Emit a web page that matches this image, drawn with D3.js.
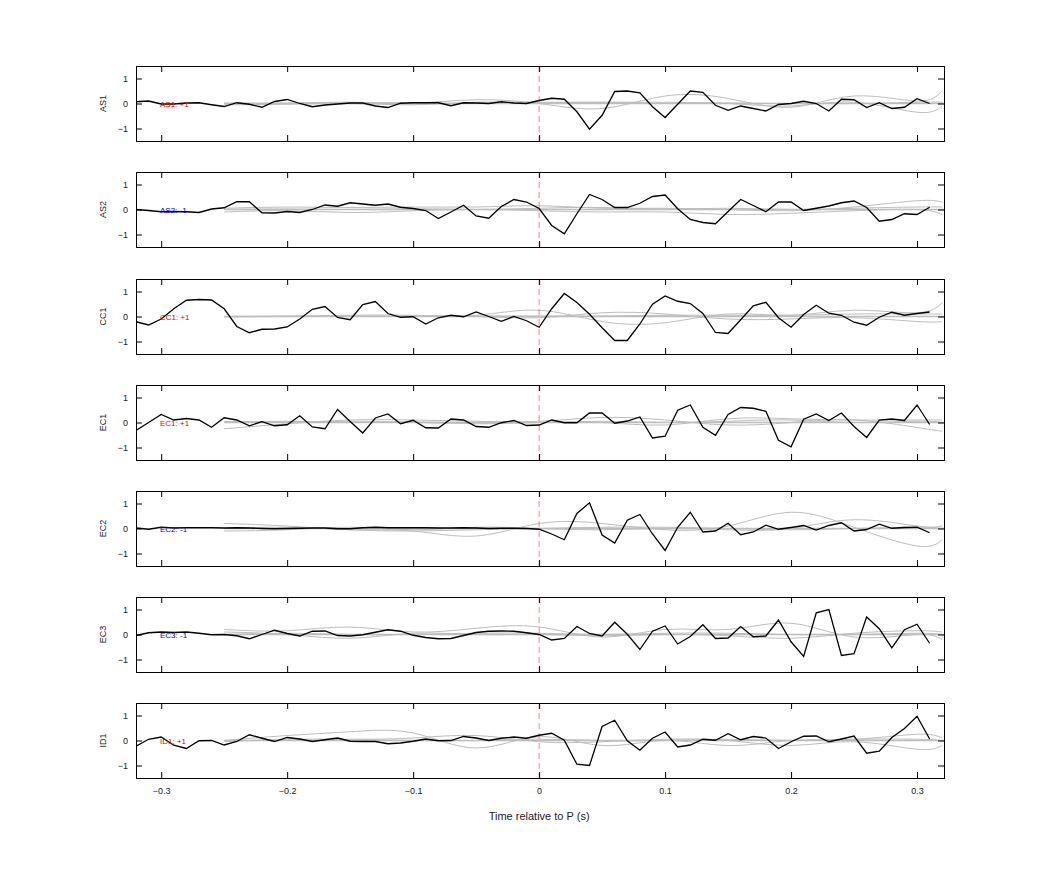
<!DOCTYPE html>
<html>
<head>
<meta charset="utf-8">
<script src="https://cdn.jsdelivr.net/npm/d3@7"></script>
<style>
  body { margin: 0; background: #fff; }
  text { font-family: "Liberation Sans", Arial, sans-serif; }
</style>
</head>
<body>
<svg width="1042" height="875"></svg>
<script>
// channel names, polarity sign and label colour
var channels = ['AS1', 'AS2', 'CC1', 'EC1', 'EC2', 'EC3', 'ID1']
var polarity = ['+1', '-1', '+1', '+1', '-1', '-1', '+1']

// black trace sampled every 10 ms from -0.32 to 0.31 s
var times = d3.range(64).map(function(i) { return +(-0.32 + i * 0.01).toFixed(2) })
var xTicks = [-0.3, -0.2, -0.1, 0, 0.1, 0.2, 0.3]
var yTicks = [-1, 0, 1]

var AS1 = [0.07, 0.1, -0.02, -0.02, 0.02, 0.03, -0.05, -0.12, 0.03, -0.03, -0.15, 0.08, 0.16, 0, -0.13, -0.06,
  -0.02, 0.02, 0.02, -0.1, -0.16, 0.01, 0.03, 0.03, 0.03, -0.09, 0.03, 0.02, 0, 0.07, 0.02, 0, 0.12,
  0.21, 0.17, -0.33, -1.03, -0.47, 0.48, 0.5, 0.43, -0.13, -0.56, -0.03, 0.5, 0.45, -0.07, -0.27, -0.1,
  -0.2, -0.3, -0.04, 0, 0.09, 0, -0.3, 0.17, 0.15, -0.16, 0.03, -0.2, -0.15, 0.19, 0]
var AS2 = [0, -0.04, -0.09, -0.08, -0.09, -0.12, 0.02, 0.07, 0.31, 0.31, -0.13, -0.14, -0.08, -0.12, 0, 0.18,
  0.13, 0.27, 0.22, 0.17, 0.22, 0.09, 0.04, -0.04, -0.36, -0.1, 0.17, -0.26, -0.35, 0.12, 0.4, 0.3, 0.04,
  -0.64, -0.97, -0.17, 0.6, 0.4, 0.08, 0.08, 0.25, 0.52, 0.58, 0.03, -0.4, -0.52, -0.57, -0.08, 0.4,
  0.16, -0.09, 0.3, 0.3, -0.04, 0.05, 0.14, 0.27, 0.34, 0.08, -0.47, -0.4, -0.17, -0.2, 0.09]
var CC1 = [-0.21, -0.34, -0.1, 0.31, 0.65, 0.68, 0.66, 0.31, -0.4, -0.65, -0.51, -0.5, -0.42, -0.1, 0.29, 0.4,
  -0.04, -0.13, 0.48, 0.6, 0.12, -0.03, -0.01, -0.3, -0.05, 0.05, -0.01, 0.18, 0, -0.19, 0, -0.17, -0.43,
  0.31, 0.92, 0.56, 0.09, -0.45, -0.96, -0.96, -0.3, 0.49, 0.82, 0.61, 0.52, 0.12, -0.64, -0.68, -0.13,
  0.43, 0.57, -0.05, -0.43, 0.08, 0.45, 0.13, 0.05, -0.23, -0.35, -0.03, 0.17, 0.05, 0.12, 0.18]
var EC1 = [-0.32, 0, 0.32, 0.1, 0.16, 0.1, -0.19, 0.19, 0.1, -0.13, 0.03, -0.13, -0.09, 0.27, -0.18, -0.25,
  0.52, 0.04, -0.42, 0.18, 0.34, -0.05, 0.09, -0.21, -0.22, 0.14, 0.1, -0.16, -0.19, -0.01, 0.08, -0.12, -0.1,
  0.1, -0.01, -0.01, 0.38, 0.38, -0.03, 0.06, 0.22, -0.62, -0.55, 0.49, 0.7, -0.19, -0.51, 0.32, 0.6,
  0.57, 0.45, -0.71, -0.97, 0.13, 0.34, 0.08, 0.38, -0.16, -0.6, 0.1, 0.14, 0.08, 0.7, -0.08]
var EC2 = [0.02, -0.03, 0.05, 0.02, 0.03, 0.03, 0.03, 0.02, 0.03, 0.02, 0, -0.01, 0, 0.01, 0.02, 0.02,
  -0.01, -0.01, 0.03, 0.05, 0.03, 0.03, 0.03, 0.03, 0.02, 0.02, 0.03, 0.02, 0, 0.01, 0.01, 0, -0.03,
  -0.22, -0.45, 0.6, 1.03, -0.26, -0.58, 0.33, 0.56, -0.22, -0.88, 0.05, 0.65, -0.14, -0.1, 0.21, -0.25,
  -0.14, 0.13, -0.03, 0.04, 0.12, -0.06, 0.12, 0.23, -0.1, -0.04, 0.17, 0.01, 0.04, 0.05, -0.17]
var EC3 = [-0.04, 0.07, 0.1, 0.08, 0.1, 0.05, -0.01, 0, -0.05, -0.17, 0, 0.17, 0.04, -0.06, 0.13, 0.14,
  -0.04, -0.06, -0.01, 0.09, 0.19, 0.13, -0.03, -0.12, -0.17, -0.16, -0.04, 0.08, 0.13, 0.14, 0.13, 0.07, 0,
  -0.22, -0.16, 0.32, 0.04, -0.06, 0.49, 0.01, -0.6, 0.13, 0.34, -0.38, -0.08, 0.39, -0.16, -0.14, 0.32,
  -0.09, -0.06, 0.58, -0.29, -0.88, 0.87, 1.0, -0.84, -0.77, 0.7, 0.23, -0.53, 0.19, 0.41, -0.35]
var ID1 = [-0.23, 0.05, 0.14, -0.19, -0.32, -0.01, 0, -0.18, -0.04, 0.23, 0.09, -0.04, 0.12, 0.06, -0.04, 0.03,
  0.1, -0.03, -0.04, -0.04, -0.13, -0.1, -0.03, 0.06, -0.01, 0, 0.16, 0.1, 0, 0.09, 0.14, 0.09, 0.21,
  0.29, 0.01, -0.95, -1.0, 0.56, 0.81, -0.01, -0.39, 0.09, 0.34, -0.26, -0.18, 0.05, 0.01, 0.27, 0.03,
  0.16, 0.1, -0.32, -0.05, 0.17, 0.18, -0.05, 0.06, 0.18, -0.51, -0.43, 0.12, 0.48, 0.97, 0.06]
var traces = [AS1, AS2, CC1, EC1, EC2, EC3, ID1]

// grey comparison curves, sampled every 50 ms from -0.25 s (last point at 0.32)
var greyT = [-0.25, -0.2, -0.15, -0.1, -0.05, 0, 0.05, 0.1, 0.15, 0.2, 0.25, 0.3, 0.32]
var greyAS1 = [
  [0, 0.02, 0.05, 0.02, 0.15, 0.0, -0.2, 0.3, 0.2, -0.15, 0.3, 0.1, 0.5],
  [-0.05, -0.03, 0.0, -0.05, 0.05, 0.05, 0.05, 0.0, 0.0, -0.1, 0.05, -0.35, -0.1],
  [0.02, 0.0, 0.02, 0.03, 0.0, 0.02, 0.05, 0.05, 0.02, 0.0, 0.0, 0.05, 0.05]]
var greyAS2 = [
  [0.05, 0.1, 0.08, 0.1, 0.1, 0.15, 0.05, 0.05, 0.0, -0.05, 0.1, 0.35, 0.3],
  [-0.1, -0.05, -0.12, -0.05, 0.0, -0.05, -0.1, -0.1, -0.2, -0.15, -0.05, 0.0, -0.2],
  [0.0, 0.02, 0.0, 0.03, 0.0, 0.05, 0.08, 0.02, 0.05, 0.0, 0.05, 0.1, 0.1]]
var greyCC1 = [
  [0.0, 0.02, 0.05, 0.05, 0.05, 0.25, -0.2, -0.25, 0.1, 0.05, 0.25, 0.15, 0.55],
  [-0.02, 0.0, 0.02, 0.0, 0.0, -0.05, 0.15, 0.1, -0.1, -0.1, -0.05, -0.2, -0.2],
  [0.0, 0.0, 0.0, 0.02, 0.02, 0.02, 0.02, 0.05, 0.05, 0.05, 0.1, 0.1, 0.1]]
var greyEC1 = [
  [-0.25, -0.05, 0.1, 0.1, 0.05, 0.05, 0.2, 0.1, -0.1, 0.0, 0.1, -0.2, -0.35],
  [0.0, 0.05, 0.0, 0.0, -0.05, 0.0, 0.0, -0.1, 0.15, 0.15, 0.1, 0.1, 0.1],
  [0.05, 0.02, 0.05, 0.02, 0.0, 0.0, 0.05, 0.0, 0.05, 0.1, 0.0, 0.05, 0.0]]
var greyEC2 = [
  [0.2, 0.1, -0.05, -0.1, -0.3, 0.2, 0.2, -0.05, 0.1, 0.65, 0.05, -0.7, -0.45],
  [-0.1, -0.05, 0.05, -0.05, 0.05, 0.0, -0.05, 0.0, -0.05, 0.0, 0.35, 0.1, 0.1],
  [0.0, 0.05, -0.05, -0.1, -0.05, 0.0, 0.05, 0.05, 0.0, -0.05, 0.0, 0.05, 0.0]]
var greyEC3 = [
  [0.2, 0.15, 0.3, 0.1, 0.25, 0.3, -0.1, 0.2, 0.2, 0.45, -0.1, 0.0, -0.2],
  [0.1, 0.0, -0.15, 0.05, 0.0, 0.0, -0.05, 0.0, -0.05, -0.15, 0.05, 0.15, 0.1],
  [0.0, 0.05, 0.0, 0.0, 0.05, 0.05, 0.0, 0.05, 0.05, 0.0, 0.0, 0.05, 0.0]]
var greyID1 = [
  [0.0, 0.2, 0.35, 0.3, -0.3, 0.15, -0.2, 0.0, -0.2, 0.0, 0.05, 0.25, 0.1],
  [-0.05, 0.05, 0.05, 0.1, 0.2, -0.05, -0.05, 0.05, 0.0, -0.2, -0.05, -0.35, -0.2],
  [0.0, 0.0, 0.02, 0.0, 0.0, 0.05, 0.0, 0.0, 0.05, 0.0, 0.05, 0.05, 0.0]]
var greys = [greyAS1, greyAS2, greyCC1, greyEC1, greyEC2, greyEC3, greyID1]

var svg = d3.select('svg'),
  left = 136, right = 944, panelH = 75,
  tops = [66, 172, 279, 385, 491, 597, 703]

var x = d3.scaleLinear().domain([-0.32, 0.3214]).range([left, right])
var y = d3.scaleLinear().domain([-1.5, 1.5]).range([panelH, 0])

var line = d3.line()
  .x(function(d, i) { return x(times[i]) })
  .y(function(d) { return y(d) })
var greyLine = d3.line()
  .x(function(d, i) { return x(greyT[i]) })
  .y(function(d) { return y(d) })
  .curve(d3.curveNatural)

channels.forEach(function(name, c) {
  var g = svg.append('g').attr('transform', 'translate(0,' + tops[c] + ')')
  g.append('clipPath').attr('id', 'clip' + c)
    .append('rect').attr('x', left).attr('width', right - left).attr('height', panelH)

  var plot = g.append('g').attr('clip-path', 'url(#clip' + c + ')')
  greys[c].forEach(function(s) {
    plot.append('path').datum(s).attr('d', greyLine)
      .attr('fill', 'none').attr('stroke', '#bdbdbd').attr('stroke-width', 1)
  })
  plot.append('line')
    .attr('x1', x(-0.25)).attr('x2', x(0.3214)).attr('y1', y(0)).attr('y2', y(0))
    .attr('stroke', '#bdbdbd').attr('stroke-width', 1.5)
  plot.append('line')
    .attr('x1', x(0)).attr('x2', x(0)).attr('y1', 0).attr('y2', panelH)
    .attr('stroke', '#e07070').attr('stroke-width', 0.8).attr('stroke-dasharray', '6,4')
  plot.append('path').datum(traces[c]).attr('d', line)
    .attr('fill', 'none').attr('stroke', '#000').attr('stroke-width', 1.3)

  g.append('text').attr('x', 160).attr('y', y(0) + 3)
    .attr('font-size', 8).attr('fill', polarity[c] === '+1' ? '#e00000' : '#0000e0')
    .text(name + ': ' + polarity[c])

  // axes, MATLAB style: ticks inward on all four sides
  g.append('g').attr('transform', 'translate(' + left + ',0)')
    .call(d3.axisLeft(y).tickValues(yTicks).tickSize(-6).tickPadding(8).tickFormat(d3.format('d')))
  g.append('g').attr('transform', 'translate(' + right + ',0)')
    .call(d3.axisRight(y).tickValues(yTicks).tickSize(-6).tickFormat(''))
  g.append('g')
    .call(d3.axisTop(x).tickValues(xTicks).tickSize(-6).tickFormat(''))
  g.append('g').attr('transform', 'translate(0,' + panelH + ')')
    .call(d3.axisBottom(x).tickValues(xTicks).tickSize(-6).tickPadding(10)
      .tickFormat(c === channels.length - 1 ? function(d) { return d === 0 ? '0' : d3.format('.1f')(d) } : ''))
  g.selectAll('.domain').attr('stroke', '#000')
  g.selectAll('.tick text').attr('font-size', 9).attr('fill', '#222')

  g.append('text')
    .attr('transform', 'translate(106,' + y(0) + ') rotate(-90)')
    .attr('text-anchor', 'middle').attr('font-size', 9).attr('fill', '#222')
    .text(name)
})

svg.append('text').attr('x', x(0)).attr('y', 820)
  .attr('text-anchor', 'middle').attr('font-size', 11).attr('fill', '#222')
  .text('Time relative to P (s)')
</script>
</body>
</html>
